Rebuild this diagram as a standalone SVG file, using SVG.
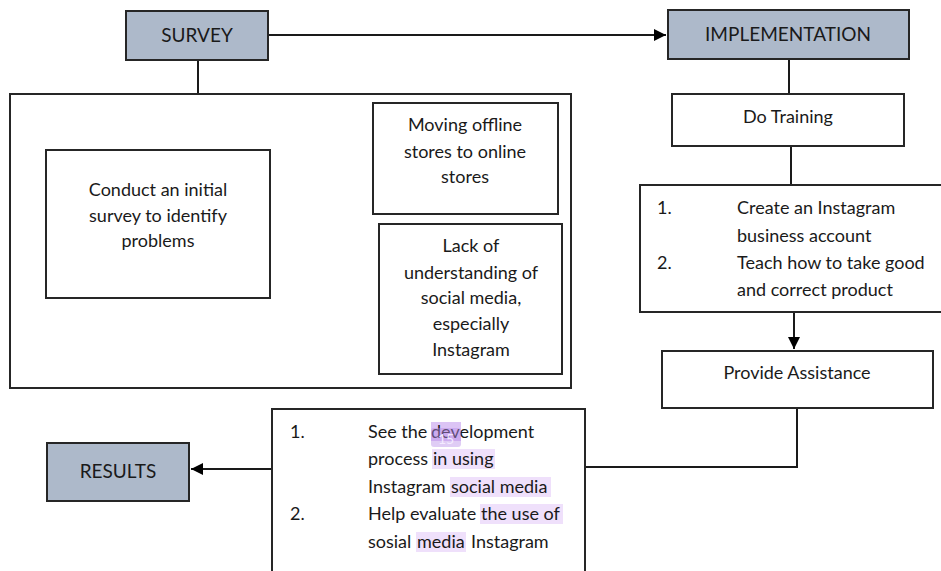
<svg xmlns="http://www.w3.org/2000/svg" width="941" height="571" viewBox="0 0 941 571">
<defs>
<style>
.box{fill:#fff;stroke:#262626;stroke-width:2}
.hdr{fill:#adb9ca;stroke:#262626;stroke-width:2}
.ln{fill:none;stroke:#1a1a1a;stroke-width:2}
text{font-family:Lato,"Open Sans","Liberation Sans",sans-serif;font-size:18px;fill:#1a1a1a}
.h{font-size:19px}
.c{text-anchor:middle}
.hl{fill:#efe0fb}
</style>
<marker id="arr" viewBox="0 0 10 10" refX="10" refY="5" markerWidth="6" markerHeight="6" markerUnits="strokeWidth" orient="auto">
<path d="M0,0 L10,5 L0,10 z" fill="#000"/>
</marker>
</defs>
<rect width="941" height="571" fill="#fff"/>
<g id="connectors">
<path class="ln" d="M268,35 H666" marker-end="url(#arr)"/>
<path class="ln" d="M198,60 V94"/>
<path class="ln" d="M270,222 H332 M332,152 V289 M332,152 H373 M332,289 H379"/>
<path class="ln" d="M789,59 V94"/>
<path class="ln" d="M791,146 V185"/>
<path class="ln" d="M794,312 V349" marker-end="url(#arr)"/>
<path class="ln" d="M797,408 V467 H585"/>
<path class="ln" d="M272,469 H191" marker-end="url(#arr)"/>
</g>
<g id="survey">
<rect class="hdr" x="126" y="11" width="142" height="49"/>
<text class="c h" x="197" y="42">SURVEY</text>
</g>
<g id="implementation">
<rect class="hdr" x="668" y="10" width="241" height="49"/>
<text class="c h" x="788" y="41">IMPLEMENTATION</text>
</g>
<g id="survey-group">
<rect class="box" x="10" y="94" width="561" height="294"/>
</g>
<g id="conduct">
<rect class="box" x="46" y="150" width="224" height="148"/>
<text class="c" x="158" y="196">Conduct an initial</text>
<text class="c" x="158" y="222">survey to identify</text>
<text class="c" x="158" y="247">problems</text>
</g>
<g id="moving">
<rect class="box" x="373" y="103" width="185" height="111"/>
<text class="c" x="465" y="131">Moving offline</text>
<text class="c" x="465" y="158">stores to online</text>
<text class="c" x="465" y="183">stores</text>
</g>
<g id="lack">
<rect class="box" x="379" y="224" width="183" height="150"/>
<text class="c" x="471" y="252">Lack of</text>
<text class="c" x="471" y="279">understanding of</text>
<text class="c" x="471" y="304">social media,</text>
<text class="c" x="471" y="330">especially</text>
<text class="c" x="471" y="356">Instagram</text>
</g>
<g id="do-training">
<rect class="box" x="672" y="94" width="232" height="52"/>
<text class="c" x="788" y="123">Do Training</text>
</g>
<g id="training-list">
<rect class="box" x="640" y="185" width="320" height="127"/>
<text x="657" y="214">1.</text>
<text x="737" y="214">Create an Instagram</text>
<text x="737" y="242">business account</text>
<text x="657" y="269">2.</text>
<text x="737" y="269">Teach how to take good</text>
<text x="737" y="296">and correct product</text>
</g>
<g id="provide-assistance">
<rect class="box" x="662" y="351" width="271" height="57"/>
<text class="c" x="797" y="379">Provide Assistance</text>
</g>
<g id="results-list">
<rect class="box" x="272" y="409" width="313" height="200"/>
<rect class="hl" x="432" y="449" width="63" height="20"/>
<rect class="hl" x="450" y="477" width="101" height="20"/>
<rect class="hl" x="480" y="504" width="83" height="20"/>
<rect class="hl" x="416" y="532" width="50" height="20"/>
<rect x="431" y="422" width="30" height="19" fill="#dcc4f5"/>
<text x="290" y="438">1.</text>
<text x="368" y="438">See the <tspan x="431">development</tspan></text>
<text x="368" y="465">process <tspan x="433">in using</tspan></text>
<text x="368" y="493">Instagram <tspan x="451">social media</tspan></text>
<text x="290" y="520">2.</text>
<text x="368" y="520">Help evaluate <tspan x="481">the use of</tspan></text>
<text x="368" y="548">sosial <tspan x="417">media</tspan> <tspan x="471">Instagram</tspan></text>
<rect x="431" y="428" width="30" height="19" rx="3" fill="#b88ee8" fill-opacity="0.45"/>
<text class="c" x="446" y="444" style="fill:#f3eaff;font-size:14px">15</text>
</g>
<g id="results">
<rect class="hdr" x="47" y="443" width="142" height="58"/>
<text class="c h" x="118" y="478">RESULTS</text>
</g>
</svg>
